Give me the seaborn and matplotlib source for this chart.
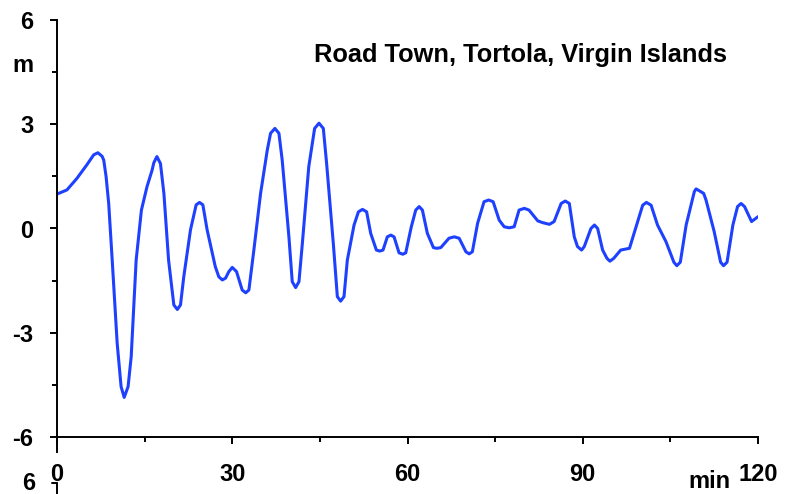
import matplotlib
matplotlib.use("Agg")
import matplotlib.pyplot as plt
from matplotlib.lines import Line2D
from matplotlib.ticker import MultipleLocator
import seaborn as sns
import pandas as pd

minutes = [0, 1.7, 3.4, 5.1, 6.28, 7.0, 7.71, 8.0, 8.4, 8.85,
           9.45, 10.3, 10.97, 11.5, 12.17, 12.7, 13.55, 14.45, 15.4, 16.28,
           16.57, 17.1, 17.71, 18.3, 19.1, 20.0, 20.6, 21.14, 21.7, 22.85,
           23.82, 24.4, 24.97, 25.7, 27.1, 27.7, 28.3, 28.85, 29.42, 30.0,
           30.73, 31.7, 32.3, 32.85, 33.7, 34.85, 36.0, 36.56, 37.3, 37.99,
           38.55, 39.7, 40.27, 40.85, 41.42, 42.0, 43.1, 44.1, 44.85, 45.59,
           46.15, 47.3, 47.99, 48.55, 49.13, 49.7, 50.85, 51.6, 52.3, 53.0,
           53.7, 54.67, 55.25, 55.81, 56.55, 57.15, 57.7, 58.55, 59.2, 59.7,
           60.65, 61.41, 62.0, 62.55, 63.4, 64.44, 65.0, 65.7, 67.1, 68.0,
           68.84, 70.0, 70.55, 71.1, 72.0, 73.1, 73.9, 74.66, 75.7, 76.55,
           77.4, 78.26, 79.1, 80.0, 80.8, 82.3, 83.1, 84.3, 85.1, 86.3,
           87.0, 87.7, 88.55, 89.1, 89.8, 90.26, 91.4, 92.0, 92.55, 93.4,
           94.15, 94.65, 95.3, 96.5, 98.0, 99.4, 100.26, 100.9, 101.7, 102.8,
           104.25, 105.6, 106.1, 106.7, 107.7, 109.1, 109.4, 110.7, 111.1, 112.5,
           113.6, 114.1, 114.7, 115.7, 116.5, 117.1, 117.7, 118.9, 120.0]
sea_level_m = [0.99, 1.11, 1.44, 1.83, 2.12, 2.18, 2.08, 1.97, 1.5, 0.72,
               -0.91, -3.3, -4.55, -4.86, -4.55, -3.69, -0.91, 0.53, 1.2, 1.68,
               1.89, 2.07, 1.87, 1.01, -0.91, -2.2, -2.33, -2.2, -1.39, -0.04,
               0.68, 0.75, 0.68, -0.04, -1.1, -1.39, -1.48, -1.43, -1.24, -1.12,
               -1.24, -1.77, -1.85, -1.77, -0.62, 1.01, 2.26, 2.74, 2.88, 2.74,
               1.97, -0.24, -1.53, -1.7, -1.53, -0.43, 1.78, 2.88, 3.03, 2.88,
               1.88, -0.43, -1.96, -2.09, -1.96, -0.91, 0.1, 0.48, 0.55, 0.48,
               -0.14, -0.62, -0.65, -0.62, -0.24, -0.19, -0.24, -0.70, -0.74, -0.70,
               0.05, 0.53, 0.63, 0.53, -0.14, -0.55, -0.57, -0.55, -0.28, -0.24,
               -0.28, -0.67, -0.73, -0.67, 0.15, 0.77, 0.82, 0.77, 0.24, 0.05,
               0.02, 0.05, 0.53, 0.58, 0.53, 0.22, 0.17, 0.12, 0.2, 0.72,
               0.79, 0.72, -0.24, -0.52, -0.62, -0.52, 0.0, 0.1, 0.0, -0.62,
               -0.86, -0.94, -0.86, -0.62, -0.57, 0.2, 0.67, 0.75, 0.67, 0.1,
               -0.38, -0.97, -1.07, -0.97, 0.1, 1.06, 1.14, 1.01, 0.82, -0.09,
               -0.97, -1.07, -0.97, 0.1, 0.63, 0.72, 0.63, 0.2, 0.34]
x_ticks = [0, 30, 60, 90, 120]
y_ticks = [-6, -3, 0, 3, 6]
title = "Road Town, Tortola, Virgin Islands"

sns.set_style("white")
plt.rcParams['font.family'] = ['Liberation Sans', 'DejaVu Sans']
plt.rcParams['font.weight'] = 'bold'
plt.rcParams['text.color'] = 'black'
plt.rcParams['xtick.color'] = 'black'
plt.rcParams['ytick.color'] = 'black'
plt.rcParams['xtick.labelcolor'] = 'black'
plt.rcParams['ytick.labelcolor'] = 'black'

W, H = 785, 494
fig = plt.figure(figsize=(W / 100, H / 100), dpi=100)
ax = fig.add_axes([57 / W, 1 - 437 / H, (758 - 57) / W, (437 - 20) / H])

df = pd.DataFrame({"t": minutes, "h": sea_level_m})
sns.lineplot(data=df, x="t", y="h", ax=ax, color="#1e40ff", linewidth=2.2,
             solid_joinstyle="round", solid_capstyle="round")

ax.set_xlim(0, 120)
ax.set_ylim(-6, 6)
ax.set_xlabel("")
ax.set_ylabel("")
for s in ["top", "right"]:
    ax.spines[s].set_visible(False)
for s in ["left", "bottom"]:
    ax.spines[s].set_color("black")
    ax.spines[s].set_linewidth(1.4)
ax.spines["left"].set_bounds(-6.43, 6)

ax.set_xticks(x_ticks)
ax.set_xticklabels([str(v) for v in x_ticks])
ax.set_yticks(y_ticks)
ax.set_yticklabels([str(v) for v in y_ticks])
ax.xaxis.set_minor_locator(MultipleLocator(15))
ax.yaxis.set_minor_locator(MultipleLocator(1.5))
ax.tick_params(axis="both", which="major", direction="out", length=5, width=1.4,
               color="black", labelsize=17, bottom=True, left=True)
ax.tick_params(axis="both", which="minor", direction="out", length=3.5, width=1.4,
               color="black", bottom=True, left=True)
ax.tick_params(axis="x", which="major", pad=14)
ax.tick_params(axis="y", which="major", pad=12)
for lab in ax.get_xticklabels() + ax.get_yticklabels():
    lab.set_fontweight("bold")

ax.text(-(57 - 33) / 701, 4.7, "m", transform=ax.get_yaxis_transform(),
        ha="right", va="center", fontsize=17, fontweight="bold")
ax.text((727 - 57) / 701, 1 - (55 - 20) / 417, title, transform=ax.transAxes,
        ha="right", va="center", fontsize=18.3, fontweight="bold")
fig.text(709 / W, 1 - 481 / H, "min", ha="center", va="center",
         fontsize=17, fontweight="bold")

# fragment of the next panel below (clipped)
fig.text(35 / W, 1 - 483 / H, "6", ha="right", va="center",
         fontsize=17, fontweight="bold")
fig.add_artist(Line2D([52 / W, 57 / W], [1 - 483 / H, 1 - 483 / H],
                      color="black", linewidth=1.4, transform=fig.transFigure))
fig.add_artist(Line2D([57 / W, 57 / W], [1 - 483 / H, 0],
                      color="black", linewidth=1.4, transform=fig.transFigure))

fig.savefig("out.png", dpi=100)
